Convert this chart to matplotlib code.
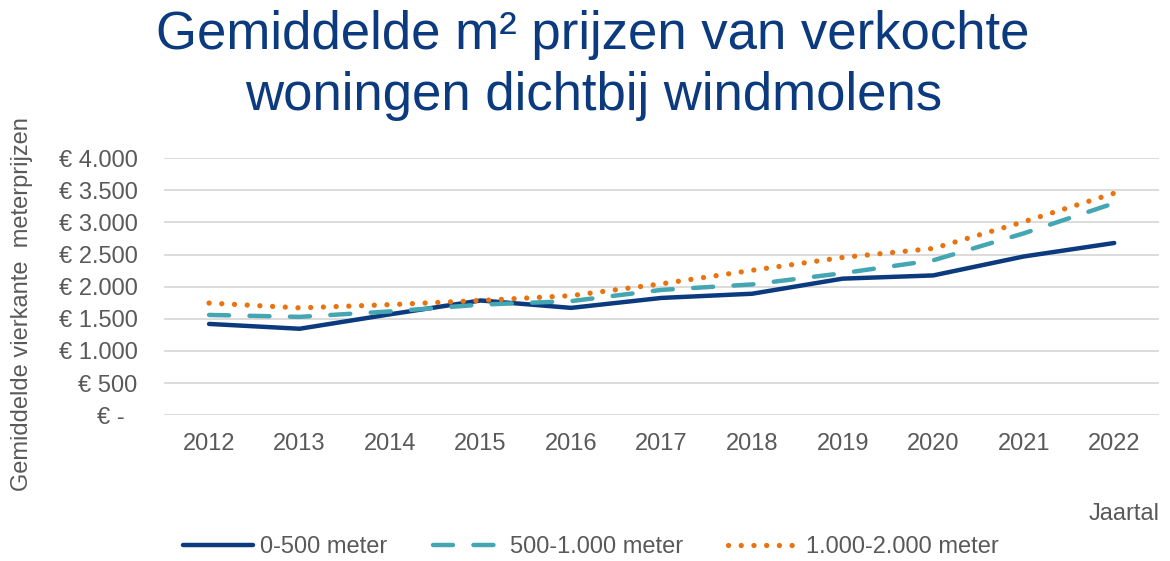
import matplotlib.pyplot as plt
import numpy as np

plt.rcParams['font.family'] = ['Liberation Sans', 'DejaVu Sans']

# data
jaren = ['2012', '2013', '2014', '2015', '2016', '2017', '2018', '2019', '2020', '2021', '2022']
m0_500 = [1420, 1345, 1570, 1785, 1670, 1825, 1890, 2125, 2175, 2470, 2680]
m500_1000 = [1560, 1530, 1615, 1720, 1775, 1950, 2035, 2210, 2410, 2830, 3300]
m1000_2000 = [1745, 1670, 1720, 1785, 1860, 2045, 2255, 2455, 2595, 3010, 3455]
y_ticks = [0, 500, 1000, 1500, 2000, 2500, 3000, 3500, 4000]
y_labels = ['€ -  ', '€ 500', '€ 1.000', '€ 1.500', '€ 2.000', '€ 2.500', '€ 3.000', '€ 3.500', '€ 4.000']

navy = '#0b3a7e'
teal = '#44a6b3'
orange = '#e8730f'
grey = '#595959'

fig = plt.figure(figsize=(11.7, 5.61), dpi=100)
ax = fig.add_axes([0.140, 0.260, 0.851, 0.458])

x = np.arange(len(jaren))
ax.plot(x, m0_500, color=navy, lw=3.2, solid_capstyle='round', solid_joinstyle='round',
        label='0-500 meter', zorder=3)
ax.plot(x, m500_1000, color=teal, lw=3.2, dashes=(4.5, 4.6), dash_capstyle='round',
        label='500-1.000 meter', zorder=3)
ax.plot(x, m1000_2000, color=orange, lw=3.8, dashes=(0.01, 2.4), dash_capstyle='round',
        label='1.000-2.000 meter', zorder=3)

ax.set_xlim(-0.5, len(jaren) - 0.5)
ax.set_ylim(0, 4000)
ax.set_xticks(x)
ax.set_xticklabels(jaren)
ax.set_yticks(y_ticks)
ax.set_yticklabels(y_labels)
ax.tick_params(length=0, labelsize=17, colors=grey)
ax.tick_params(axis='y', pad=19)
ax.tick_params(axis='x', pad=13)
ax.grid(axis='y', color='#d9d9d9', lw=1.3)
ax.set_axisbelow(True)
for s in ax.spines.values():
    s.set_visible(False)

fig.text(0.019, 0.458, 'Gemiddelde vierkante  meterprijzen', rotation=90, ha='center', va='center',
         fontsize=17, color=grey)
fig.text(0.991, 0.084, 'Jaartal', ha='right', va='center', fontsize=17, color=grey)

fig.text(0.507, 0.938, 'Gemiddelde m² prijzen van verkochte', ha='center', va='center',
         fontsize=38, color=navy)
fig.text(0.507, 0.829, 'woningen dichtbij windmolens', ha='center', va='center',
         fontsize=38, color=navy)

fig.legend(loc='center', bbox_to_anchor=(0.505, 0.025), ncol=3, frameon=False, fontsize=17,
           handlelength=3.0, handletextpad=0.3, columnspacing=1.9, labelcolor=grey)

fig.savefig('out.png', dpi=100)
